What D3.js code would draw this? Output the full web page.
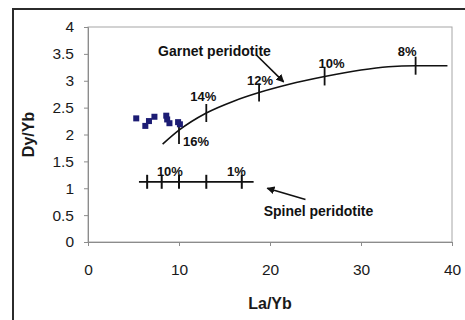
<!DOCTYPE html>
<html>
<head>
<meta charset="utf-8">
<script src="https://cdn.jsdelivr.net/npm/d3@7"></script>
<style>
  html, body { margin: 0; padding: 0; background: #fff; }
  svg text { font-family: Arial, "Liberation Sans", sans-serif; }
</style>
</head>
<body>
<svg id="chart" width="465" height="320"></svg>
<script>
// Sample compositions (La/Yb vs Dy/Yb)
const sampleLaYb = [5.3, 6.3, 6.7, 7.3, 8.6, 8.7, 8.95, 9.9, 10.1];
const sampleDyYb = [2.30, 2.16, 2.25, 2.33, 2.35, 2.28, 2.21, 2.23, 2.19];

// Garnet peridotite melting curve
const garnetLaYb = [8.2, 10, 13, 16, 18.8, 22, 26, 30, 33, 36, 39.5];
const garnetDyYb = [1.82, 2.08, 2.40, 2.62, 2.78, 2.93, 3.08, 3.20, 3.26, 3.28, 3.28];

// Degree-of-melting marks on the garnet curve
const garnetMarkLabels = ["16%", "14%", "12%", "10%", "8%"];
const garnetMarkLaYb = [10, 13, 18.8, 26, 36];
const garnetMarkDyYb = [1.99, 2.40, 2.78, 3.08, 3.28];

// Spinel peridotite melting line
const spinelLaYb = [5.6, 18.2];
const spinelDyYb = [1.12, 1.12];
const spinelMarkLaYb = [6.5, 8.1, 10, 13, 16.9];
const spinelMarkLabels = ["10%", "1%"];
const spinelLabelLaYb = [9, 16.3];

// Axis ticks
const xTicks = [0, 10, 20, 30, 40];
const yTicks = [0, 0.5, 1, 1.5, 2, 2.5, 3, 3.5, 4];

const svg = d3.select("#chart");
const plot = { left: 88, top: 27, right: 452, bottom: 242 };

const x = d3.scaleLinear().domain([0, 40]).range([plot.left, plot.right]);
const y = d3.scaleLinear().domain([0, 4]).range([plot.bottom, plot.top]);

// Outer chart frame
svg.append("rect")
  .attr("x", 13).attr("y", 9)
  .attr("width", 470).attr("height", 330)
  .attr("fill", "none").attr("stroke", "#2b2b2b").attr("stroke-width", 2);

// Plot area border
svg.append("rect")
  .attr("x", plot.left).attr("y", plot.top)
  .attr("width", plot.right - plot.left).attr("height", plot.bottom - plot.top)
  .attr("fill", "none").attr("stroke", "#a6a6a6").attr("stroke-width", 1);

// Axes
const xAxis = svg.append("g")
  .attr("transform", `translate(0,${plot.bottom})`)
  .call(d3.axisBottom(x).tickValues(xTicks).tickSize(4).tickPadding(18).tickFormat(d3.format("d")));
const yAxis = svg.append("g")
  .attr("transform", `translate(${plot.left},0)`)
  .call(d3.axisLeft(y).tickValues(yTicks).tickSize(4).tickPadding(10).tickFormat(d => String(d)));

[xAxis, yAxis].forEach(g => {
  g.select(".domain").attr("stroke", "#8c8c8c");
  g.selectAll(".tick line").attr("stroke", "#8c8c8c");
  g.selectAll(".tick text")
    .attr("fill", "#1a1a1a")
    .style("font-size", "15.5px");
});

// Axis titles
svg.append("text")
  .attr("x", (plot.left + plot.right) / 2).attr("y", 309)
  .attr("text-anchor", "middle")
  .style("font-size", "16px").style("font-weight", "bold").attr("fill", "#1a1a1a")
  .text("La/Yb");
svg.append("text")
  .attr("transform", `translate(34,${(plot.top + plot.bottom) / 2}) rotate(-90)`)
  .attr("text-anchor", "middle")
  .style("font-size", "16px").style("font-weight", "bold").attr("fill", "#1a1a1a")
  .text("Dy/Yb");

// Garnet curve
const garnet = garnetLaYb.map((v, i) => [v, garnetDyYb[i]]);
svg.append("path")
  .datum(garnet)
  .attr("fill", "none").attr("stroke", "#111").attr("stroke-width", 1.6)
  .attr("d", d3.line().x(d => x(d[0])).y(d => y(d[1])).curve(d3.curveMonotoneX));

// Garnet marks and labels: [dx, dy from the curve, anchor]
const gLabelOffset = [[4, 16, "start"], [-3, -12, "middle"], [1, -8, "middle"], [-6, -8, "start"], [1, -10, "end"]];
garnetMarkLaYb.forEach((v, i) => {
  const cx = x(v), cy = y(garnetMarkDyYb[i]);
  svg.append("line")
    .attr("x1", cx).attr("x2", cx).attr("y1", cy - 9).attr("y2", cy + 9)
    .attr("stroke", "#111").attr("stroke-width", 1.8);
  const o = gLabelOffset[i];
  const baseY = i === 0 ? y(garnetDyYb[1]) : cy;
  svg.append("text")
    .attr("x", cx + o[0]).attr("y", baseY + o[1])
    .attr("text-anchor", o[2])
    .style("font-size", "13px").style("font-weight", "bold").attr("fill", "#111")
    .text(garnetMarkLabels[i]);
});

// Spinel line
svg.append("line")
  .attr("x1", x(spinelLaYb[0])).attr("x2", x(spinelLaYb[1]))
  .attr("y1", y(spinelDyYb[0])).attr("y2", y(spinelDyYb[1]))
  .attr("stroke", "#111").attr("stroke-width", 1.8);
spinelMarkLaYb.forEach(v => {
  svg.append("line")
    .attr("x1", x(v)).attr("x2", x(v))
    .attr("y1", y(spinelDyYb[0]) - 7).attr("y2", y(spinelDyYb[0]) + 7)
    .attr("stroke", "#111").attr("stroke-width", 2);
});
spinelMarkLabels.forEach((t, i) => {
  svg.append("text")
    .attr("x", x(spinelLabelLaYb[i])).attr("y", y(spinelDyYb[0]) - 6)
    .attr("text-anchor", "middle")
    .style("font-size", "13px").style("font-weight", "bold").attr("fill", "#111")
    .text(t);
});

// Sample points
svg.append("g").selectAll("rect")
  .data(sampleLaYb.map((v, i) => [v, sampleDyYb[i]]))
  .join("rect")
  .attr("x", d => x(d[0]) - 3).attr("y", d => y(d[1]) - 3)
  .attr("width", 6).attr("height", 6)
  .attr("fill", "#1c1c74");

// Annotations with arrows
svg.append("defs").append("marker")
  .attr("id", "arrow").attr("viewBox", "0 0 10 10")
  .attr("refX", 9).attr("refY", 5)
  .attr("markerWidth", 5).attr("markerHeight", 5)
  .attr("orient", "auto")
  .append("path").attr("d", "M0,0 L10,5 L0,10 z").attr("fill", "#111");

svg.append("text")
  .attr("x", x(7.7)).attr("y", 56)
  .style("font-size", "14px").style("font-weight", "bold").attr("fill", "#111")
  .text("Garnet peridotite");
svg.append("line")
  .attr("x1", x(18.5)).attr("y1", y(3.48)).attr("x2", x(21.5)).attr("y2", y(2.98))
  .attr("stroke", "#111").attr("stroke-width", 1.6).attr("marker-end", "url(#arrow)");

svg.append("text")
  .attr("x", x(19.3)).attr("y", 216)
  .style("font-size", "14px").style("font-weight", "bold").attr("fill", "#111")
  .text("Spinel peridotite");
svg.append("line")
  .attr("x1", x(23.9)).attr("y1", y(0.79)).attr("x2", x(19.7)).attr("y2", y(1.0))
  .attr("stroke", "#111").attr("stroke-width", 1.6).attr("marker-end", "url(#arrow)");
</script>
</body>
</html>
